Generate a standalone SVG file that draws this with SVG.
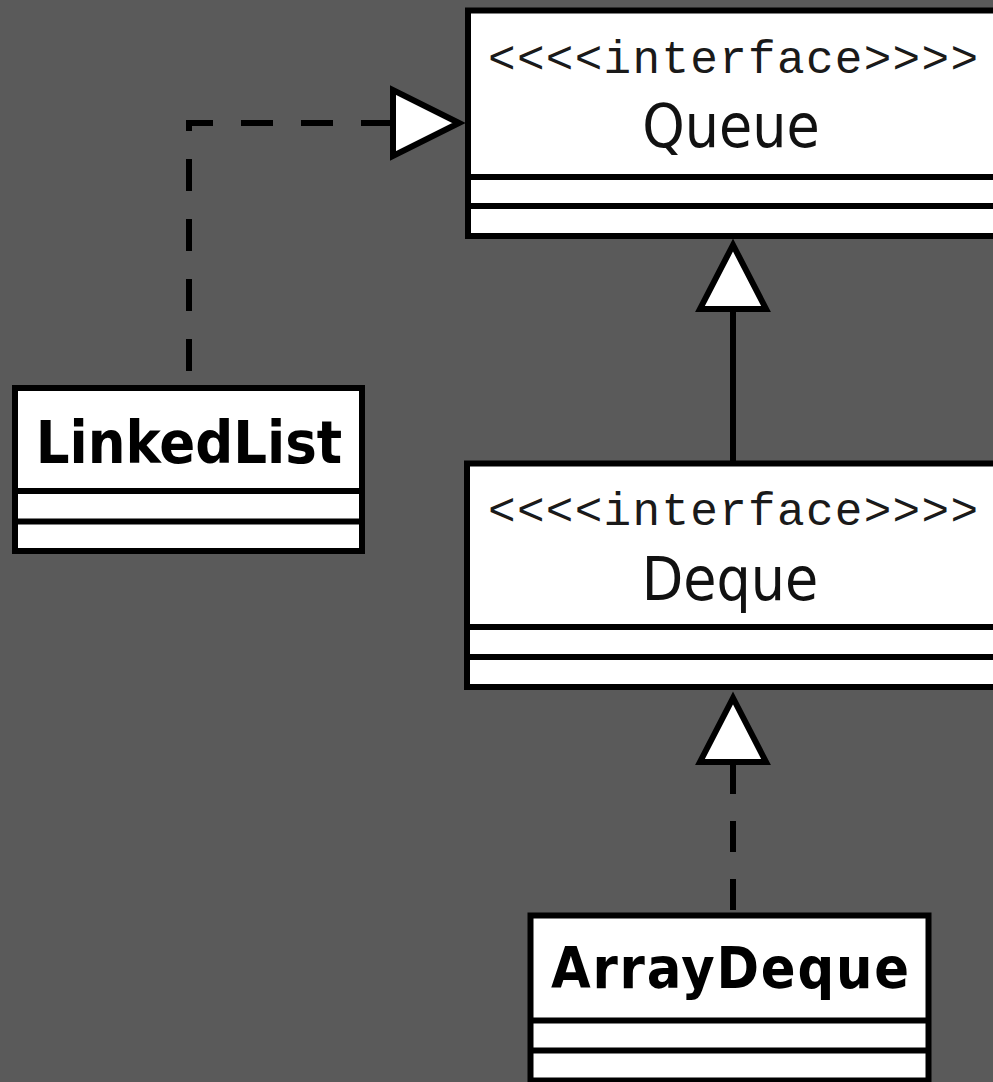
<svg xmlns="http://www.w3.org/2000/svg" width="993" height="1082" viewBox="0 0 993 1082">
  <style>
    .box { fill: #ffffff; stroke: #000000; stroke-width: 6; }
    .sep { stroke: #000000; stroke-width: 6; fill: none; }
    .stereo { font-family: "Liberation Mono", "DejaVu Sans Mono", monospace; font-size: 46px; fill: #1a1a1a; text-anchor: middle; }
    .iname { font-family: "DejaVu Sans Condensed", "DejaVu Sans", sans-serif; font-stretch: condensed; font-size: 60px; fill: #111111; text-anchor: middle; }
    .cname { font-family: "DejaVu Sans Condensed", "DejaVu Sans", sans-serif; font-stretch: condensed; font-weight: bold; font-size: 59px; fill: #000000; text-anchor: middle; }
    .line { stroke: #000000; stroke-width: 6; fill: none; }
    .dash { stroke-dasharray: 32 28; }
    .head { fill: #ffffff; stroke: #000000; stroke-width: 6; stroke-linejoin: miter; }
  </style>
  <rect x="0" y="0" width="993" height="1082" fill="#5a5a5a"/>

  <g id="connectors">
    <!-- LinkedList realizes Queue -->
    <path class="line dash" d="M393,123 H189 V386"/>
    <polygon class="head" points="459,123 393,90 393,156"/>
    <!-- Deque extends Queue -->
    <line class="line" x1="733" y1="309" x2="733" y2="462"/>
    <polygon class="head" points="733,245 700,309 766,309"/>
    <!-- ArrayDeque realizes Deque -->
    <path class="line" d="M733,763 V913" style="stroke-dasharray: 31 27"/>
    <polygon class="head" points="733,698 700,762 766,762"/>
  </g>

  <g id="node-queue">
    <rect class="box" x="468" y="10.5" width="535" height="225.5"/>
    <line class="sep" x1="468" y1="177" x2="1003" y2="177"/>
    <line class="sep" x1="468" y1="206" x2="1003" y2="206"/>
    <text class="stereo" x="733" y="73" textLength="490" lengthAdjust="spacing">&lt;&lt;&lt;&lt;interface&gt;&gt;&gt;&gt;</text>
    <text class="iname" x="731" y="147">Queue</text>
  </g>

  <g id="node-deque">
    <rect class="box" x="467" y="463.5" width="536" height="223.5"/>
    <line class="sep" x1="467" y1="627" x2="1003" y2="627"/>
    <line class="sep" x1="467" y1="657" x2="1003" y2="657"/>
    <text class="stereo" x="733" y="525" textLength="490" lengthAdjust="spacing">&lt;&lt;&lt;&lt;interface&gt;&gt;&gt;&gt;</text>
    <text class="iname" x="730" y="600">Deque</text>
  </g>

  <g id="node-linkedlist">
    <rect class="box" x="15" y="388" width="347" height="163"/>
    <line class="sep" x1="15" y1="491" x2="362" y2="491"/>
    <line class="sep" x1="15" y1="521.5" x2="362" y2="521.5"/>
    <text class="cname" x="189" y="463">LinkedList</text>
  </g>

  <g id="node-arraydeque">
    <rect class="box" x="530.5" y="915.5" width="398" height="165"/>
    <line class="sep" x1="530.5" y1="1020.5" x2="928.5" y2="1020.5"/>
    <line class="sep" x1="530.5" y1="1050.5" x2="928.5" y2="1050.5"/>
    <text class="cname" x="730" y="988" style="font-size:57px" textLength="358" lengthAdjust="spacing">ArrayDeque</text>
  </g>
</svg>
